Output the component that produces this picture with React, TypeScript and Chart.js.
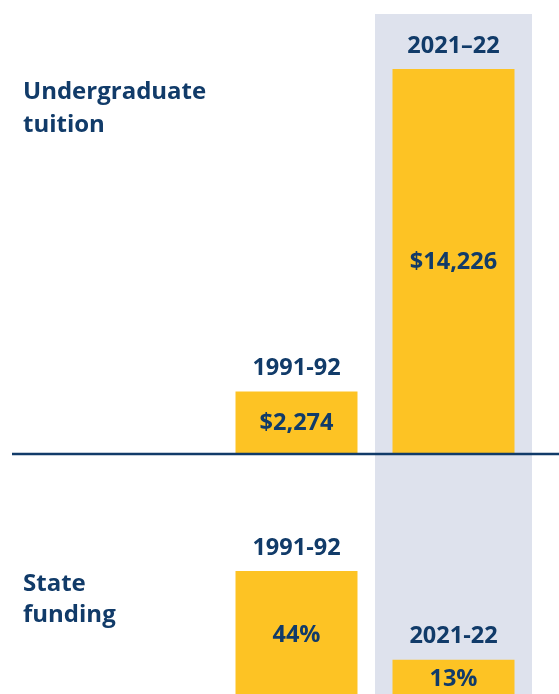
import React, { useEffect, useRef } from 'react';
import { Chart, registerables } from 'chart.js';

Chart.register(...registerables);

// ---- data ----
const periods = ['1991-92', '2021-22'];
const tuitionPeriodLabels = ['1991-92', '2021–22'];
const tuitionValues = [2274, 14226];
const tuitionValueLabels = ['$2,274', '$14,226'];
const fundingPeriodLabels = ['1991-92', '2021-22'];
const fundingValues = [44, 13];
const fundingValueLabels = ['44%', '13%'];
const tuitionTitle = ['Undergraduate', 'tuition'];
const fundingTitle = ['State', 'funding'];

// ---- style ----
const NAVY = '#113b69';
const YELLOW = '#fdc324';
const GRAY = '#dee2ed';
const FONT = '"Open Sans", "DejaVu Sans", sans-serif';

type Opts = {
  periodLabels: string[];
  valueLabels: string[];
  title: string[];
  titleY: number[];
  bandTop: number;
  drawBaseline: boolean;
};

function makePlugin(o: Opts) {
  return {
    id: 'decor',
    beforeDatasetsDraw(chart: any) {
      const { ctx } = chart;
      const x = chart.scales.x;
      const c0 = x.getPixelForValue(0);
      const c1 = x.getPixelForValue(1);
      const w = c1 - c0;
      ctx.save();
      ctx.fillStyle = GRAY;
      ctx.fillRect(c1 - w / 2, o.bandTop, w, chart.height - o.bandTop);
      ctx.restore();
    },
    afterDatasetsDraw(chart: any) {
      const { ctx } = chart;
      const meta = chart.getDatasetMeta(0);
      ctx.save();
      ctx.fillStyle = NAVY;
      ctx.textAlign = 'center';
      ctx.textBaseline = 'middle';
      ctx.font = `700 23.5px ${FONT}`;
      meta.data.forEach((bar: any, i: number) => {
        const { x, y, base } = bar.getProps(['x', 'y', 'base'], true);
        ctx.fillText(o.periodLabels[i], x, y - 23);
        ctx.fillText(o.valueLabels[i], x, (y + base) / 2 + 1);
      });
      ctx.textAlign = 'left';
      ctx.font = `700 24px ${FONT}`;
      o.title.forEach((t, i) => ctx.fillText(t, 23, o.titleY[i]));
      if (o.drawBaseline) {
        const yb = chart.scales.y.getPixelForValue(0) + 1;
        ctx.strokeStyle = NAVY;
        ctx.lineWidth = 2.5;
        ctx.beginPath();
        ctx.moveTo(12, yb);
        ctx.lineTo(chart.width, yb);
        ctx.stroke();
      }
      ctx.restore();
    },
  };
}

function makeConfig(values: number[], max: number, padTop: number, padBottom: number, plugin: any): any {
  return {
    type: 'bar',
    data: {
      labels: periods,
      datasets: [
        {
          data: values,
          backgroundColor: YELLOW,
          borderWidth: 0,
          barPercentage: 0.777,
          categoryPercentage: 1,
        },
      ],
    },
    options: {
      responsive: false,
      animation: false,
      devicePixelRatio: 1,
      layout: { padding: { left: 218, right: 27, top: padTop, bottom: padBottom } },
      plugins: { legend: { display: false }, tooltip: { enabled: false } },
      scales: {
        x: { display: false, grid: { display: false } },
        y: { display: false, min: 0, max, grid: { display: false } },
      },
    },
    plugins: [plugin],
  };
}

export default function App() {
  const topRef = useRef<HTMLCanvasElement>(null);
  const botRef = useRef<HTMLCanvasElement>(null);

  useEffect(() => {
    const top = new Chart(
      topRef.current!,
      makeConfig(
        tuitionValues,
        16000,
        21,
        3,
        makePlugin({
          periodLabels: tuitionPeriodLabels,
          valueLabels: tuitionValueLabels,
          title: tuitionTitle,
          titleY: [92, 125],
          bandTop: 14,
          drawBaseline: true,
        })
      )
    );
    const bot = new Chart(
      botRef.current!,
      makeConfig(
        fundingValues,
        80,
        12,
        9,
        makePlugin({
          periodLabels: fundingPeriodLabels,
          valueLabels: fundingValueLabels,
          title: fundingTitle,
          titleY: [128, 159],
          bandTop: 0,
          drawBaseline: false,
        })
      )
    );
    return () => {
      top.destroy();
      bot.destroy();
    };
  }, []);

  return (
    <div
      style={{
        position: 'fixed',
        left: 0,
        top: 0,
        width: 559,
        height: 694,
        overflow: 'hidden',
        background: '#fff',
      }}
    >
      <canvas
        ref={topRef}
        width={559}
        height={456}
        style={{ position: 'absolute', left: 0, top: 0, width: 559, height: 456, display: 'block' }}
      />
      <canvas
        ref={botRef}
        width={559}
        height={250}
        style={{ position: 'absolute', left: 0, top: 456, width: 559, height: 250, display: 'block' }}
      />
    </div>
  );
}
